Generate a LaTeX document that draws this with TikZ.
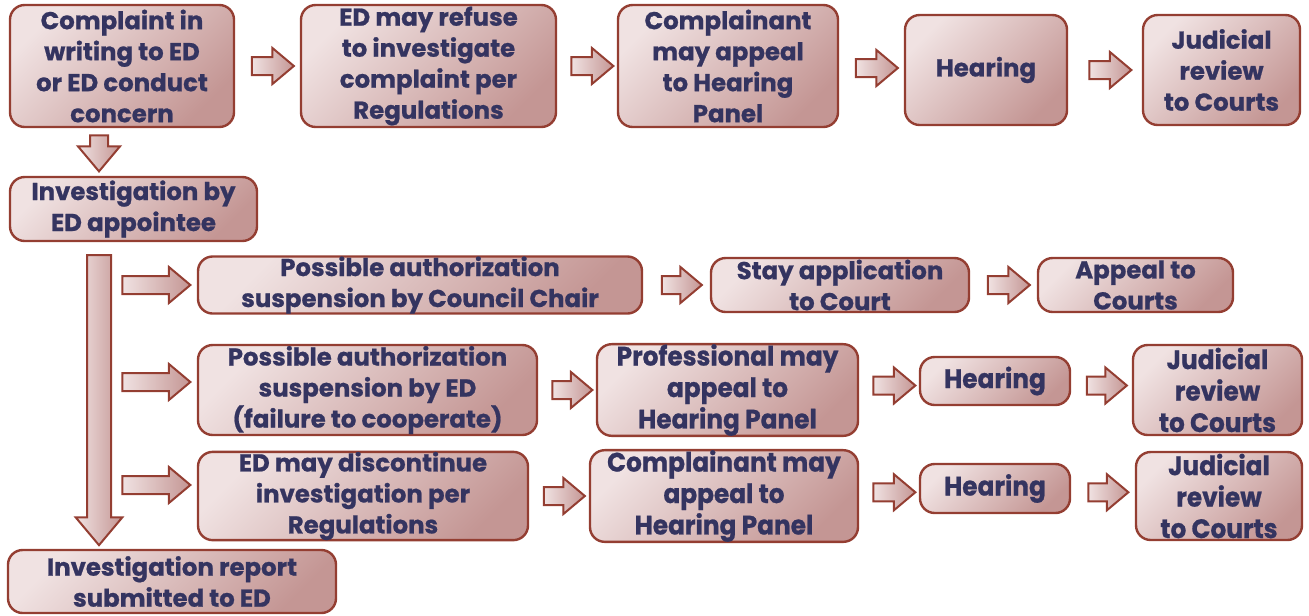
\documentclass[tikz,border=0pt]{standalone}
\usepackage{fontspec}
\setmainfont{Poppins}[FakeBold=0.8]
\newfontfamily\narrowfont{Poppins}[FakeStretch=0.93, FakeBold=0.8]
\usetikzlibrary{shapes.arrows, calc}
\definecolor{boxlite}{RGB}{240,226,226}
\definecolor{boxdark}{RGB}{196,150,148}
\definecolor{edgered}{RGB}{148,62,50}
\definecolor{navytext}{RGB}{52,52,96}

\begin{document}
\begin{tikzpicture}[x=0.75pt, y=-0.75pt,
    flowbox/.style={draw=edgered, line width=1.8pt, rounded corners=11pt, top color=boxlite, bottom color=boxdark, shading angle=45, text=navytext, align=center, inner sep=0pt, font=\bfseries\fontsize{18.3}{23.25}\selectfont},
    narrow/.style={font=\narrowfont\bfseries\fontsize{20}{23.6}\selectfont},
    blockarr/.style={single arrow, draw=edgered, line width=1.5pt, left color=boxlite, right color=boxdark, inner xsep=0pt, inner ysep=6pt, single arrow head extend=6.75pt, single arrow tip angle=80, single arrow head indent=0pt},
  ]
  \useasboundingbox (0,0) rectangle (1309,615);

  \node[flowbox, minimum width=224*0.75pt, minimum height=122*0.75pt] (cmpl) at (122,66) {Complaint in\\writing to ED\\or ED conduct\\concern};
  \node[flowbox, minimum width=255*0.75pt, minimum height=122*0.75pt] (refuse) at (428.5,66) {ED may refuse\\to investigate\\complaint per\\Regulations};
  \node[flowbox, minimum width=220*0.75pt, minimum height=122*0.75pt] (appeal) at (728,66) {Complainant\\may appeal\\to Hearing\\Panel};
  \node[flowbox, minimum width=162*0.75pt, minimum height=110*0.75pt] (hear) at (986,70) {Hearing};
  \node[flowbox, minimum width=157*0.75pt, minimum height=110*0.75pt] (jrev) at (1221.5,70) {Judicial\\review\\to Courts};

  \node[flowbox, minimum width=247*0.75pt, minimum height=64*0.75pt] (invest) at (133.5,209) {Investigation by\\ED appointee};
  \node[flowbox, minimum width=328*0.75pt, minimum height=63*0.75pt] (report) at (172,581.5) {Investigation report\\submitted to ED};

  \node[flowbox, minimum width=444*0.75pt, minimum height=54*0.75pt] (chair) at (420,285) {Possible authorization\\suspension by Council Chair};
  \node[flowbox, minimum width=258*0.75pt, minimum height=54*0.75pt] (stay) at (840,285) {Stay application\\to Court};
  \node[flowbox, minimum width=195*0.75pt, minimum height=54*0.75pt] (courts) at (1135.5,285) {Appeal to\\Courts};

  \node[flowbox, minimum width=339*0.75pt, minimum height=90*0.75pt] (edsusp) at (367.5,390) {Possible authorization\\suspension by ED\\(failure to cooperate)};
  \node[flowbox, narrow, minimum width=261*0.75pt, minimum height=90*0.75pt] (profapp) at (727.5,390) {Professional may\\appeal to\\Hearing Panel};
  \node[flowbox, narrow, minimum width=150*0.75pt, minimum height=48*0.75pt] (hearB) at (995,381) {Hearing};
  \node[flowbox, narrow, minimum width=169*0.75pt, minimum height=90*0.75pt] (jrevB) at (1217.5,390) {Judicial\\review\\to Courts};

  \node[flowbox, minimum width=330*0.75pt, minimum height=88*0.75pt] (discont) at (363,496) {ED may discontinue\\investigation per\\Regulations};
  \node[flowbox, narrow, minimum width=268*0.75pt, minimum height=88*0.75pt] (cmplapp) at (724,496) {Complainant may\\appeal to\\Hearing Panel};
  \node[flowbox, narrow, minimum width=150*0.75pt, minimum height=49*0.75pt] (hearC) at (995,488.5) {Hearing};
  \node[flowbox, narrow, minimum width=166*0.75pt, minimum height=88*0.75pt] (jrevC) at (1219,496) {Judicial\\review\\to Courts};

  \node[blockarr, minimum height=42*0.75pt] (t1) at ($(cmpl.east)!.5!(refuse.west)$ |- hear) {};
  \node[blockarr, minimum height=42*0.75pt] (t2) at ($(refuse.east)!.5!(appeal.west)$ |- hear) {};
  \node[blockarr, minimum height=42*0.75pt] (t3) at ($(appeal.east)!.5!(hear.west)$ |- hear) {};
  \node[blockarr, minimum height=42*0.75pt] (t4) at ($(hear.east)!.5!(jrev.west)$) {};

  \node[blockarr, rotate=-90, minimum height=36*0.75pt, single arrow head extend=9pt] (down) at (99,148) {};
  \node[blockarr, rotate=-90, minimum height=290*0.75pt, inner ysep=8.25pt, single arrow head extend=8.5pt] (trunk) at (99,393) {};

  \node[blockarr, minimum height=68*0.75pt] (ra) at (151,285) {};
  \node[blockarr, minimum height=68*0.75pt] (rb) at (151,382) {};
  \node[blockarr, minimum height=68*0.75pt] (rc) at (151,485) {};

  \node[blockarr, minimum height=40*0.75pt] (a12) at ($(chair.east)!.5!(stay.west)$) {};
  \node[blockarr, minimum height=42*0.75pt] (a23) at ($(stay.east)!.5!(courts.west)$) {};

  \node[blockarr, minimum height=40*0.75pt] (b12) at ($(edsusp.east)!.5!(profapp.west)$ |- hearB) {};
  \node[blockarr, minimum height=42*0.75pt] (b23) at ($(profapp.east)!.5!(hearB.west)$ |- hearB) {};
  \node[blockarr, minimum height=40*0.75pt] (b34) at ($(hearB.east)!.5!(jrevB.west)$ |- hearB) {};

  \node[blockarr, minimum height=41*0.75pt] (c12) at ($(discont.east)!.5!(cmplapp.west)$ |- hearC) {};
  \node[blockarr, minimum height=42*0.75pt] (c23) at ($(cmplapp.east)!.5!(hearC.west)$ |- hearC) {};
  \node[blockarr, minimum height=40*0.75pt] (c34) at ($(hearC.east)!.5!(jrevC.west)$ |- hearC) {};
\end{tikzpicture}
\end{document}
